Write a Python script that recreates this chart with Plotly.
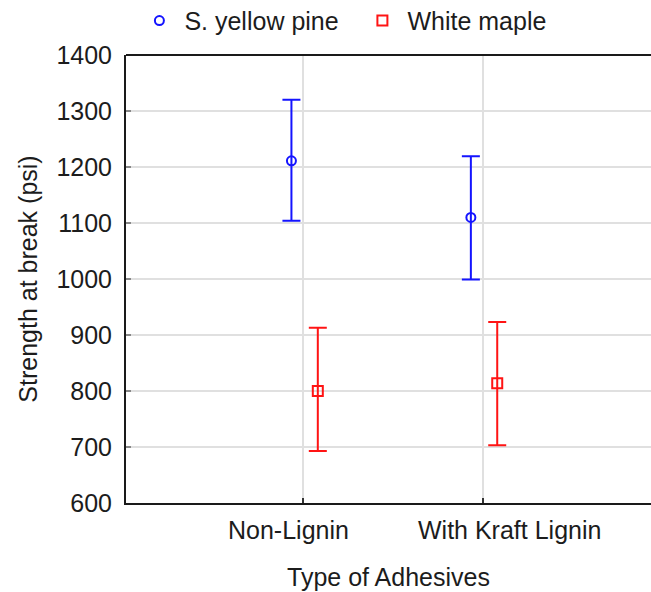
import plotly.graph_objects as go

categories = ["Non-Lignin", "With Kraft Lignin"]
series_names = ["S. yellow pine", "White maple"]
pine_mean = [1211, 1110]
pine_upper = [1320, 1219]
pine_lower = [1104, 999]
maple_mean = [800, 814]
maple_upper = [913, 923]
maple_lower = [693, 703]
y_ticks = [600, 700, 800, 900, 1000, 1100, 1200, 1300, 1400]

FONT = "Arial, 'Liberation Sans', sans-serif"
TXT = "#1c1c1c"
LABEL_XSHIFT = [-15, 27]  # category labels sit slightly off their gridlines in the original

def trace(name, mean, upper, lower, color, symbol, size, offset):
    xs = [i + offset for i in range(len(categories))]
    return go.Scatter(
        x=xs, y=mean, name=name, mode="markers",
        marker=dict(symbol=symbol, size=size, color=color, line=dict(width=2, color=color)),
        error_y=dict(type="data", symmetric=False,
                     array=[u - m for u, m in zip(upper, mean)],
                     arrayminus=[m - l for m, l in zip(mean, lower)],
                     color=color, thickness=2, width=9),
    )

fig = go.Figure()
fig.add_trace(trace(series_names[0], pine_mean, pine_upper, pine_lower, "#1414ff", "circle-open", 9, -0.066))
fig.add_trace(trace(series_names[1], maple_mean, maple_upper, maple_lower, "#ff1414", "square-open", 10, 0.081))

fig.update_layout(
    width=651, height=592,
    margin=dict(l=126, r=0, t=55, b=89, autoexpand=False),
    paper_bgcolor="white", plot_bgcolor="white",
    font=dict(family=FONT, size=25, color=TXT),
    showlegend=True,
    legend=dict(orientation="h", x=0.016, xanchor="left", y=1.025, yanchor="bottom", yref="paper",
                font=dict(size=25, color=TXT), itemwidth=40, entrywidth=168,
                bgcolor="rgba(0,0,0,0)", tracegroupgap=0),
)
fig.update_xaxes(
    range=[-0.988, 1.938], tickmode="array", tickvals=list(range(len(categories))),
    showticklabels=False,
    showgrid=True, gridcolor="#e0e0e0", gridwidth=2,
    showline=True, linecolor="#1a1a1a", linewidth=2,
    ticks="inside", ticklen=5, tickcolor="#333", tickwidth=1.5,
    zeroline=False, automargin=False,
    title=dict(text="Type of Adhesives", standoff=64, font=dict(size=25, color=TXT)),
)
fig.update_yaxes(
    range=[600, 1400], tickvals=y_ticks,
    showgrid=True, gridcolor="#e0e0e0", gridwidth=2,
    showline=True, linecolor="#1a1a1a", linewidth=2,
    ticks="inside", ticklen=5, tickcolor="#888", tickwidth=1.5,
    ticklabelstandoff=7, zeroline=False, automargin=False,
    title=dict(text="Strength at break (psi)", standoff=12, font=dict(size=25, color=TXT)),
)
for i, (cat, dx) in enumerate(zip(categories, LABEL_XSHIFT)):
    fig.add_annotation(x=i, xref="x", y=0, yref="paper", text=cat, showarrow=False,
                       xanchor="center", yanchor="middle", xshift=dx, yshift=-27,
                       font=dict(size=25, color=TXT))
fig.add_shape(type="line", xref="paper", yref="paper", x0=0, x1=1, y0=1, y1=1,
              line=dict(color="#1a1a1a", width=2))

fig.write_html(
    "out.html",
    config={"displayModeBar": False},
    post_script="document.body.style.margin='0';document.documentElement.style.overflow='hidden';document.body.style.overflow='hidden';",
)
